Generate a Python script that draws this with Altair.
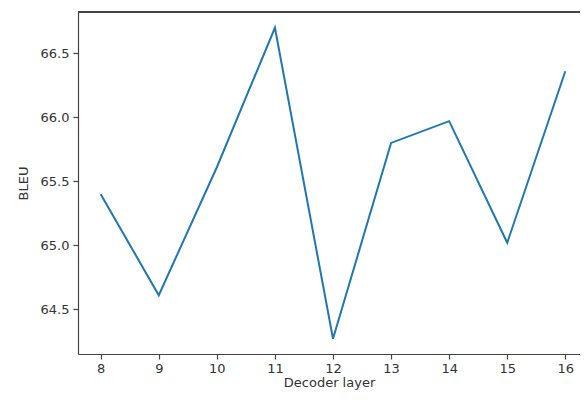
import altair as alt
import pandas as pd

layers = [8, 9, 10, 11, 12, 13, 14, 15, 16]
bleu = [65.40, 64.61, 65.61, 66.70, 64.27, 65.80, 65.97, 65.02, 66.36]
y_ticks = [64.5, 65.0, 65.5, 66.0, 66.5]

df = pd.DataFrame({"layer": layers, "bleu": bleu})

W = 502
H = 342

line = alt.Chart(df).mark_line(color="#1f77b4", strokeWidth=2).encode(
    x=alt.X("layer:Q", title="Decoder layer",
            scale=alt.Scale(domain=[7.609, 16.253], nice=False, zero=False),
            axis=alt.Axis(values=layers, format="d", grid=False, tickSize=5,
                          labelPadding=3, titlePadding=1)),
    y=alt.Y("bleu:Q", title="BLEU",
            scale=alt.Scale(domain=[64.151, 66.823], nice=False, zero=False),
            axis=alt.Axis(values=y_ticks, format=".1f", grid=False, tickSize=5,
                          labelPadding=4, titlePadding=10)),
)

top = alt.Chart(df).mark_rule(color="#444", strokeWidth=1.2).encode(
    x=alt.value(0), x2=alt.value(W), y=alt.value(0)
)

chart = alt.layer(line, top).properties(
    width=W, height=H,
    autosize=alt.AutoSizeParams(type="none"),
    padding={"left": 70, "top": 4, "right": 0, "bottom": 40},
).configure_view(strokeWidth=0).configure_axis(
    domainColor="#444", domainWidth=1.2, tickColor="#444", tickWidth=1.2,
    labelFont="DejaVu Sans", labelFontSize=13, labelColor="#333",
    titleFont="DejaVu Sans", titleFontSize=13, titleColor="#333",
    titleFontWeight="normal",
)

chart.save("out.html", embed_options={"renderer": "svg", "actions": False})
